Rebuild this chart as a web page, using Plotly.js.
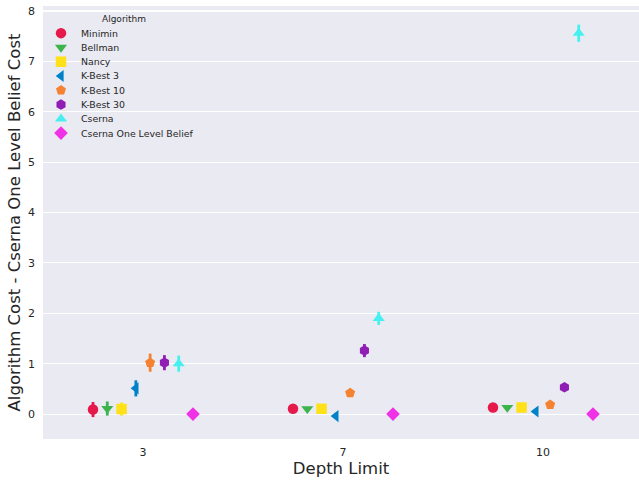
<!DOCTYPE html>
<html>
<head>
<meta charset="utf-8">
<script src="https://cdn.plot.ly/plotly-3.0.1.min.js"></script>
<style>html,body{margin:0;padding:0;background:#fff}#chart{width:639px;height:480px}</style>
</head>
<body>
<div id="chart"></div>
<script>
// ---- data ----
const depths = ["3", "7", "10"];
const algorithms = ["Minimin", "Bellman", "Nancy", "K-Best 3", "K-Best 10", "K-Best 30", "Cserna", "Cserna One Level Belief"];
const minimin = [0.09, 0.105, 0.13];
const bellman = [0.11, 0.105, 0.13];
const nancy = [0.10, 0.105, 0.13];
const kbest3 = [0.51, -0.04, 0.05];
const kbest10 = [1.02, 0.42, 0.185];
const kbest30 = [1.02, 1.26, 0.53];
const cserna = [1.00, 1.90, 7.56];
const csernaOLB = [0.0, 0.0, 0.0];
const minimin_err = [0.15, 0.02, 0.02];
const bellman_err = [0.14, 0.02, 0.02];
const nancy_err = [0.13, 0.02, 0.02];
const kbest3_err = [0.16, 0.03, 0.02];
const kbest10_err = [0.18, 0.08, 0.04];
const kbest30_err = [0.15, 0.13, 0.05];
const cserna_err = [0.16, 0.13, 0.17];
const csernaOLB_err = [0.0, 0.0, 0.0];

const series = [minimin, bellman, nancy, kbest3, kbest10, kbest30, cserna, csernaOLB];
const errors = [minimin_err, bellman_err, nancy_err, kbest3_err, kbest10_err, kbest30_err, cserna_err, csernaOLB_err];
const colors = ["#e6194b", "#3cb44b", "#ffe119", "#0082c8", "#f58231", "#911eb4", "#46f0f0", "#f032e6"];
const symbols = ["circle", "triangle-down", "square", "triangle-left", "pentagon", "hexagon", "triangle-up", "diamond"];

const dodgeWidth = 0.5;
const n = algorithms.length;
const traces = [];
algorithms.forEach((name, i) => {
  const off = -dodgeWidth / 2 + i * dodgeWidth / (n - 1);
  traces.push({
    type: "scatter", mode: "markers", name: name, showlegend: false,
    x: depths.map((d, j) => j + off),
    y: series[i],
    marker: {symbol: symbols[i], color: colors[i], size: 10.5, line: {width: 0}},
    error_y: {type: "data", array: errors[i], visible: true, color: colors[i], thickness: 2.8, width: 0},
    cliponaxis: false
  });
});

// custom legend (compact like matplotlib) on an overlay axis in pixel units
const legX = 61, legY0 = 32.7, legStep = 14.3;
traces.push({
  type: "scatter", mode: "markers", xaxis: "x2", yaxis: "y2", showlegend: false, hoverinfo: "skip",
  x: algorithms.map(() => legX),
  y: algorithms.map((a, i) => legY0 + i * legStep),
  marker: {symbol: symbols, color: colors, size: 10.5, line: {width: 0}},
  cliponaxis: false
});
const annotations = algorithms.map((a, i) => ({
  xref: "x2", yref: "y2", x: 79, y: legY0 + i * legStep, text: a, showarrow: false,
  xanchor: "left", yanchor: "middle", font: {family: "DejaVu Sans", size: 9.4, color: "#262626"}
}));
annotations.push({
  xref: "x2", yref: "y2", x: 124, y: 18.3, text: "Algorithm", showarrow: false,
  xanchor: "center", yanchor: "middle", font: {family: "DejaVu Sans", size: 9, color: "#262626"}
});

const layout = {
  width: 639, height: 480,
  margin: {l: 43, r: 0, t: 5.5, b: 40.7, pad: 0},
  paper_bgcolor: "#ffffff", plot_bgcolor: "#eaeaf2",
  font: {family: "DejaVu Sans", color: "#262626", size: 11},
  showlegend: false,
  xaxis: {
    range: [-0.5, 2.48], tickmode: "array", tickvals: depths.map((d, j) => j), ticktext: depths,
    showgrid: false, zeroline: false, showline: false, ticks: "", ticklabelstandoff: 5,
    tickfont: {size: 11, color: "#262626"},
    title: {text: "Depth Limit", font: {size: 16.5, color: "#262626"}, standoff: 4}
  },
  yaxis: {
    range: [-0.495, 8.1], tickmode: "array", tickvals: [0,1,2,3,4,5,6,7,8],
    showgrid: true, gridcolor: "#ffffff", gridwidth: 1.1, zeroline: false, showline: false, ticks: "",
    ticklabelstandoff: 7, tickfont: {size: 11, color: "#262626"},
    title: {text: "Algorithm Cost - Cserna One Level Belief Cost", font: {size: 16.5, color: "#262626"}, standoff: 3}
  },
  xaxis2: {overlaying: "x", range: [43, 639], visible: false, fixedrange: true},
  yaxis2: {overlaying: "y", range: [439.3, 5.5], visible: false, fixedrange: true},
  annotations: annotations
};

Plotly.newPlot("chart", traces, layout, {displayModeBar: false, staticPlot: true});
</script>
</body>
</html>
